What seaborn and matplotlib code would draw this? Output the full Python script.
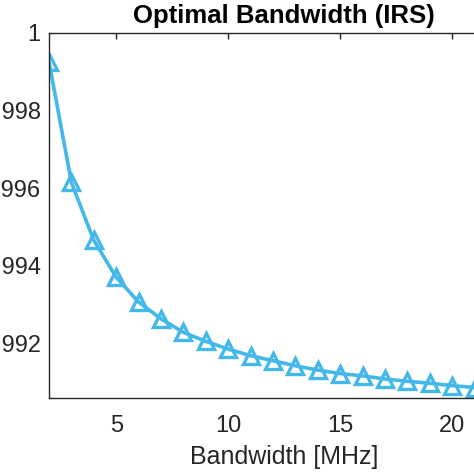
import numpy as np
import pandas as pd
import matplotlib
matplotlib.use("Agg")
import matplotlib.pyplot as plt
import seaborn as sns

# data
bandwidth = [2, 3, 4, 5, 6, 7, 8, 9, 10, 11, 12, 13, 14, 15, 16, 17, 18, 19, 20, 21, 22, 23]
rate = [0.99926, 0.99615, 0.99466, 0.99371, 0.99307, 0.99264, 0.99229, 0.99206,
        0.99186, 0.99169, 0.99156, 0.99143, 0.99132, 0.99123, 0.99117, 0.99109,
        0.99103, 0.99098, 0.99092, 0.99087, 0.99083, 0.99079]
x_ticks = [5, 10, 15, 20]
y_ticks = [0.992, 0.994, 0.996, 0.998, 1.0]
y_ticklabels = ["0.992", "0.994", "0.996", "0.998", "1"]

LINE_COLOR = "#45B8EA"
TEXT_COLOR = "#262626"

sns.set_style("white")
plt.rcParams["font.family"] = ["Liberation Sans", "DejaVu Sans"]

df = pd.DataFrame({"bandwidth": bandwidth, "rate": rate})

fig = plt.figure(figsize=(4.74, 4.74), dpi=100)
# axes run past the right edge, like the cropped original
ax = fig.add_axes([0.1034, 0.1603, 0.9924, 0.7701])

sns.lineplot(data=df, x="bandwidth", y="rate", ax=ax,
             color=LINE_COLOR, linewidth=2.6, marker="^", markersize=12,
             markerfacecolor="none", markeredgecolor=LINE_COLOR, markeredgewidth=2.4)

ax.set_xlim(2, 23)
ax.set_ylim(0.9906, 1.0)
ax.set_xticks(x_ticks)
ax.set_yticks(y_ticks)
ax.set_yticklabels(y_ticklabels)

for side in ["top", "right", "bottom", "left"]:
    ax.spines[side].set_visible(True)
    ax.spines[side].set_color(TEXT_COLOR)
    ax.spines[side].set_linewidth(1)
ax.tick_params(axis="both", direction="in", length=4, width=1, colors=TEXT_COLOR,
               labelsize=17, top=True, right=True)
ax.tick_params(axis="x", pad=12)
ax.tick_params(axis="y", pad=6)

ax.set_xlabel("Bandwidth [MHz]", fontsize=18, color=TEXT_COLOR, labelpad=6)
ax.set_ylabel("")
ax.set_title("Optimal Bandwidth (IRS)", fontsize=18.5, fontweight="bold", color="black", pad=7)

fig.savefig("out.png", dpi=100)
plt.close(fig)
